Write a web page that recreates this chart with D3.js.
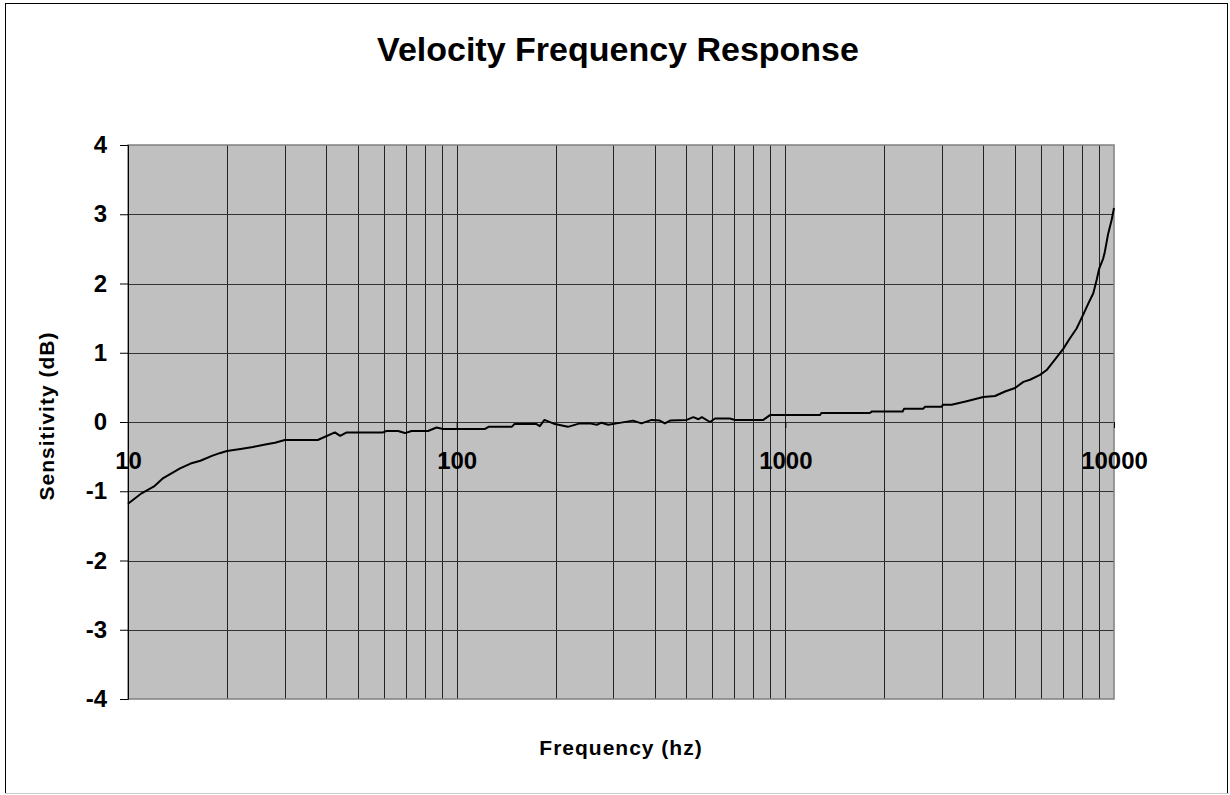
<!DOCTYPE html>
<html>
<head>
<meta charset="utf-8">
<script src="https://cdn.jsdelivr.net/npm/d3@7"></script>
<style>
  body { margin: 0; background: #fff; }
  svg { display: block; font-family: Arial, "Liberation Sans", sans-serif; }
</style>
</head>
<body>
<div id="chart"></div>
<script>
// frequency (Hz) and sensitivity (dB)
const freqHz = [10, 11, 12, 12.8, 14.4, 15.5, 16.6, 18, 19, 20, 22, 24, 26.4, 28, 30, 37.8, 42.6, 44.2, 46.3,
  59.7, 61.2, 66.3, 69.6, 72.9, 81.8, 86.9, 90.8, 122, 125, 147, 150, 175, 179, 185, 199,
  218, 237, 254, 267, 276, 289, 307, 344, 365, 392, 415, 430, 446, 501, 525, 544, 557,
  590, 611, 678, 703, 857, 898, 1274, 1289, 1807, 1831, 2275, 2296, 2624, 2661, 2991,
  3015, 3205, 3561, 4002, 4345, 4660, 5000, 5300, 5550, 5955, 6240, 6610, 7015, 7345,
  7695, 8060, 8350, 8650, 8855, 9020, 9270, 9380, 9600, 9840, 10000];
const sensDb = [-1.18, -1.03, -0.93, -0.81, -0.67, -0.6, -0.56, -0.49, -0.45, -0.42, -0.39, -0.36, -0.32, -0.3, -0.26, -0.26, -0.15, -0.2, -0.15,
  -0.15, -0.13, -0.13, -0.16, -0.13, -0.13, -0.08, -0.1, -0.1, -0.07, -0.07, -0.03, -0.03, -0.06, 0.03, -0.03,
  -0.07, -0.02, -0.02, -0.04, -0.01, -0.04, -0.02, 0.02, -0.02, 0.03, 0.02, -0.02, 0.02, 0.03, 0.07, 0.04, 0.07,
  0, 0.05, 0.05, 0.03, 0.03, 0.1, 0.1, 0.13, 0.13, 0.15, 0.15, 0.19, 0.19, 0.22, 0.22,
  0.25, 0.25, 0.3, 0.36, 0.375, 0.44, 0.49, 0.58, 0.61, 0.68, 0.75, 0.9, 1.06, 1.21,
  1.35, 1.55, 1.71, 1.86, 2.05, 2.22, 2.36, 2.46, 2.72, 2.92, 3.09];
const xTickLabels = [10, 100, 1000, 10000];
const yTicks = [-4, -3, -2, -1, 0, 1, 2, 3, 4];

const width = 1230, height = 795;
const margin = {top: 145, right: 116, bottom: 96, left: 128};

const svg = d3.select("#chart").append("svg")
  .attr("width", width)
  .attr("height", height);

// chart border
svg.append("rect")
  .attr("x", 5.5).attr("y", 3.5)
  .attr("width", 1222).attr("height", 790)
  .attr("fill", "#fff")
  .attr("stroke", "#000");
svg.append("line")
  .attr("x1", 5).attr("x2", 1229).attr("y1", 793.5).attr("y2", 793.5)
  .attr("stroke", "#ccc");

const x = d3.scaleLog()
  .domain([10, 10000])
  .range([margin.left, width - margin.right]);
const y = d3.scaleLinear()
  .domain([-4, 4])
  .range([height - margin.bottom, margin.top]);

// plot background
svg.append("rect")
  .attr("x", x.range()[0]).attr("y", y.range()[1])
  .attr("width", x.range()[1] - x.range()[0])
  .attr("height", y.range()[0] - y.range()[1])
  .attr("fill", "#c0c0c0");

// vertical gridlines (every log tick)
const grid = svg.append("g").attr("stroke", "#222").attr("stroke-width", 1);
grid.selectAll(".vg")
  .data(x.ticks().filter(d => d > 10 && d < 10000))
  .enter().append("line")
  .attr("x1", d => Math.round(x(d)) + 0.5).attr("x2", d => Math.round(x(d)) + 0.5)
  .attr("y1", y(4)).attr("y2", y(-4));

// horizontal gridlines
grid.selectAll(".hg")
  .data(yTicks.filter(d => d !== -4 && d !== 4))
  .enter().append("line")
  .attr("x1", x(10)).attr("x2", x(10000))
  .attr("y1", d => Math.round(y(d)) + 0.5).attr("y2", d => Math.round(y(d)) + 0.5)
  .attr("stroke", "#333");

// plot border
svg.append("rect")
  .attr("x", x.range()[0]).attr("y", y.range()[1])
  .attr("width", x.range()[1] - x.range()[0])
  .attr("height", y.range()[0] - y.range()[1])
  .attr("fill", "none")
  .attr("stroke", "#808080")
  .attr("stroke-width", 1.5);

// y axis
const yAxis = svg.append("g")
  .attr("transform", `translate(${x(10)},0)`)
  .call(d3.axisLeft(y).tickValues(yTicks).tickSize(8).tickPadding(13).tickFormat(d => String(d)));
yAxis.select(".domain").attr("stroke", "#000");
yAxis.selectAll(".tick line").attr("stroke", "#000");
yAxis.selectAll("text")
  .attr("font-size", 24).attr("font-weight", "bold")
  .attr("font-family", "Arial, 'Liberation Sans', sans-serif")
  .attr("fill", "#000");

// x axis through zero
const xAxis = svg.append("g")
  .attr("transform", `translate(0,${y(0)})`)
  .call(d3.axisBottom(x).tickValues(xTickLabels).tickSize(6).tickPadding(24).tickFormat(d => String(d)));
xAxis.select(".domain").remove();
xAxis.selectAll(".tick line").attr("stroke", "#000");
xAxis.selectAll("text")
  .attr("font-size", 24).attr("font-weight", "bold")
  .attr("font-family", "Arial, 'Liberation Sans', sans-serif")
  .attr("fill", "#000");

// response curve
const pts = freqHz.map((f, i) => [f, sensDb[i]]);
svg.append("path")
  .datum(pts)
  .attr("fill", "none")
  .attr("stroke", "#000")
  .attr("stroke-width", 2)
  .attr("stroke-linejoin", "round")
  .attr("d", d3.line().x(d => x(d[0])).y(d => y(d[1])));

// title and axis titles
svg.append("text")
  .attr("x", 618).attr("y", 61)
  .attr("text-anchor", "middle")
  .attr("font-size", 34).attr("font-weight", "bold")
  .text("Velocity Frequency Response");

svg.append("text")
  .attr("x", 621).attr("y", 755)
  .attr("text-anchor", "middle")
  .attr("font-size", 21).attr("font-weight", "bold")
  .attr("letter-spacing", 1)
  .text("Frequency (hz)");

svg.append("text")
  .attr("transform", `translate(54,${y(0) - 6}) rotate(-90)`)
  .attr("text-anchor", "middle")
  .attr("font-size", 21).attr("font-weight", "bold")
  .attr("letter-spacing", 1)
  .text("Sensitivity (dB)");
</script>
</body>
</html>
